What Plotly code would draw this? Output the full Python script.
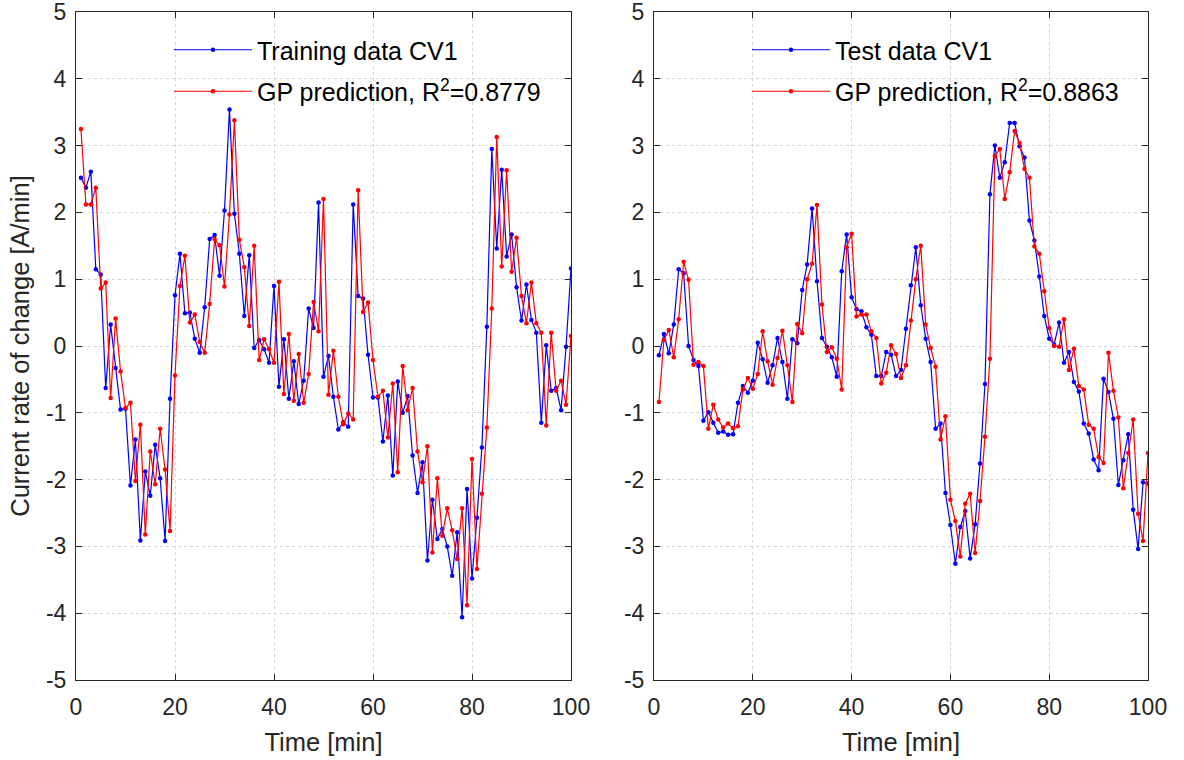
import plotly.graph_objects as go

time_min = list(range(1, 101))

train_cv1 = [2.52, 2.37, 2.61, 1.15, 1.07, -0.63, 0.32, -0.33, -0.95, -0.94,
             -2.09, -1.40, -2.91, -1.88, -2.24, -1.48, -1.98, -2.92, -0.79, 0.76,
             1.38, 0.49, 0.50, 0.11, -0.10, 0.58, 1.60, 1.66, 1.05, 2.03,
             3.54, 1.98, 1.38, 0.45, 1.36, -0.03, 0.09, -0.05, -0.25, 0.90,
             -0.61, 0.10, -0.79, -0.23, -0.87, -0.52, 0.56, 0.27, 2.15, -0.46,
             -0.15, -0.76, -1.25, -1.14, -1.21, 2.12, 0.75, 0.71, -0.13, -0.77,
             -0.77, -1.43, -0.74, -1.94, -0.53, -1.00, -0.75, -1.64, -2.20, -1.74,
             -3.21, -2.30, -2.89, -2.74, -3.00, -3.44, -2.79, -4.06, -2.14, -3.48,
             -2.57, -1.52, 0.29, 2.95, 1.46, 2.64, 1.34, 1.67, 0.88, 0.38,
             0.92, 0.39, 0.20, -1.15, 0.01, -0.67, -0.63, -0.96, -0.01, 1.16]

gp_train = [3.25, 2.12, 2.12, 2.37, 0.86, 0.95, -0.78, 0.41, -0.38, -0.93,
            -0.85, -2.02, -1.18, -2.82, -1.58, -2.07, -1.24, -1.85, -2.77, -0.44,
            0.90, 1.35, 0.35, 0.47, 0.06, -0.10, 0.63, 1.60, 1.51, 0.89,
            1.97, 3.38, 1.59, 1.18, 0.30, 1.50, -0.21, 0.10, -0.05, -0.25,
            0.96, -0.72, 0.18, -0.82, -0.12, -0.85, -0.42, 0.66, 0.22, 2.20,
            -0.73, -0.07, -0.76, -1.17, -1.01, -1.10, 2.33, 0.51, 0.65, -0.21,
            -0.76, -0.67, -1.37, -0.56, -1.89, -0.30, -0.96, -0.63, -1.58, -2.04,
            -1.50, -3.09, -1.98, -2.84, -2.43, -2.76, -3.19, -2.43, -3.88, -1.69,
            -3.34, -2.21, -1.22, 0.56, 3.13, 1.19, 2.63, 1.11, 1.62, 0.75,
            0.34, 0.95, 0.34, 0.20, -1.19, 0.20, -0.67, -0.52, -0.88, 0.15]

test_cv1 = [-0.14, 0.18, -0.11, 0.32, 1.15, 1.09, 0.00, -0.21, -0.30, -1.12,
            -0.99, -1.15, -1.30, -1.28, -1.33, -1.32, -0.85, -0.60, -0.70, -0.52,
            0.05, -0.20, -0.55, -0.29, 0.12, -0.24, -0.79, 0.10, 0.04, 0.84,
            1.22, 2.06, 0.97, 0.12, -0.01, -0.17, -0.46, 1.12, 1.67, 0.73,
            0.55, 0.52, 0.28, 0.17, -0.45, -0.45, -0.09, -0.13, -0.45, -0.36,
            0.26, 0.91, 1.48, 0.61, 0.11, -0.24, -1.24, -1.16, -2.20, -2.68,
            -3.26, -2.71, -2.47, -3.18, -2.67, -1.76, -0.57, 2.27, 3.00, 2.52,
            2.75, 3.34, 3.34, 2.99, 2.82, 1.88, 1.58, 1.04, 0.45, 0.11,
            0.02, 0.35, -0.25, -0.09, -0.54, -0.68, -1.16, -1.31, -1.70, -1.86,
            -0.49, -0.69, -1.09, -2.08, -1.71, -1.32, -2.45, -3.04, -2.04, -2.06]

gp_test = [-0.84, 0.09, 0.24, -0.17, 0.40, 1.26, 0.99, -0.28, -0.24, -0.30,
           -1.24, -0.88, -1.10, -1.22, -1.16, -1.23, -1.20, -0.65, -0.48, -0.64,
           -0.42, 0.22, -0.23, -0.58, -0.18, 0.23, -0.29, -0.84, 0.33, 0.19,
           1.00, 1.23, 2.11, 0.62, -0.09, -0.02, -0.19, -0.65, 1.48, 1.68,
           0.44, 0.47, 0.47, 0.22, 0.12, -0.56, -0.40, 0.01, -0.12, -0.48,
           -0.29, 0.38, 1.00, 1.50, 0.32, -0.03, -0.31, -1.40, -1.05, -2.30,
           -2.62, -3.15, -2.36, -2.21, -3.10, -2.32, -1.36, -0.19, 2.84, 2.95,
           2.20, 2.60, 3.22, 3.04, 2.65, 2.52, 1.49, 1.38, 0.82, 0.27,
           0.00, -0.01, 0.40, -0.36, -0.04, -0.60, -0.65, -1.18, -1.24, -1.66,
           -1.75, -0.10, -0.67, -1.07, -2.13, -1.60, -1.10, -2.51, -2.92, -1.60]

x_ticks = [0, 20, 40, 60, 80, 100]
y_ticks = [-5, -4, -3, -2, -1, 0, 1, 2, 3, 4, 5]
y_ticktext = [str(v) for v in y_ticks]   # plain hyphen-minus as in the reference

names_left = ["Training data CV1", "GP prediction, R<sup>2</sup>=0.8779"]
names_right = ["Test data CV1", "GP prediction, R<sup>2</sup>=0.8863"]

BLUE = "#0000ff"
RED = "#ff0000"
FONT = "Liberation Sans, Arial, Helvetica, sans-serif"
AXC = "#262626"

fig = go.Figure()

def add_series(y, name, color, xa, ya, legend, group):
    fig.add_trace(go.Scatter(
        x=time_min, y=y, name=name, mode="lines+markers",
        line=dict(color=color, width=1.2),
        marker=dict(color=color, size=4.5),
        xaxis=xa, yaxis=ya, legend=legend, legendgroup=group,
    ))

add_series(train_cv1, names_left[0], BLUE, "x", "y", "legend", "a")
add_series(gp_train, names_left[1], RED, "x", "y", "legend", "b")
add_series(test_cv1, names_right[0], BLUE, "x2", "y2", "legend2", "c")
add_series(gp_test, names_right[1], RED, "x2", "y2", "legend2", "d")

axis_common = dict(
    showline=True, linecolor=AXC, linewidth=1, mirror="ticks",
    ticks="inside", ticklen=6, tickcolor=AXC,
    showgrid=True, gridcolor="#d4d4d4", griddash="dot", gridwidth=1,
    zeroline=False, automargin=False, ticklabeloverflow="allow",
    tickfont=dict(family=FONT, size=23, color=AXC),
)
xaxis_common = dict(range=[0, 100], tickvals=x_ticks, ticklabelstandoff=6,
                    title=dict(text="Time [min]", font=dict(size=25.5, color=AXC), standoff=14),
                    **axis_common)
yaxis_common = dict(range=[-5, 5], tickvals=y_ticks, ticktext=y_ticktext,
                    ticklabelstandoff=4, **axis_common)

W, H = 1184, 760
yd = [1 - 680 / H, 1 - 12 / H]

legend_common = dict(xanchor="left", yanchor="top",
                     bgcolor="rgba(0,0,0,0)", borderwidth=0,
                     font=dict(family=FONT, size=25, color="black"),
                     itemwidth=78, traceorder="grouped", tracegroupgap=6)

fig.update_layout(
    width=W, height=H,
    margin=dict(l=0, r=0, t=0, b=0, autoexpand=False),
    paper_bgcolor="white", plot_bgcolor="white",
    font=dict(family=FONT, color=AXC),
    xaxis=dict(domain=[76 / W, 571 / W], anchor="y", **xaxis_common),
    yaxis=dict(domain=yd, anchor="x",
               title=dict(text="Current rate of change [A/min]",
                          font=dict(size=25.5, color=AXC), standoff=9),
               **yaxis_common),
    xaxis2=dict(domain=[654 / W, 1148 / W], anchor="y2", **xaxis_common),
    yaxis2=dict(domain=yd, anchor="x2", **yaxis_common),
    legend=dict(x=169 / W, y=1 - 27 / H, **legend_common),
    legend2=dict(x=747 / W, y=1 - 27 / H, **legend_common),
    showlegend=True,
)

# remove the browser's default page margin so the figure sits at the window origin
fig.write_html("out.html",
               config={"displayModeBar": False},
               post_script="document.body.style.margin='0';document.body.style.padding='0';")
